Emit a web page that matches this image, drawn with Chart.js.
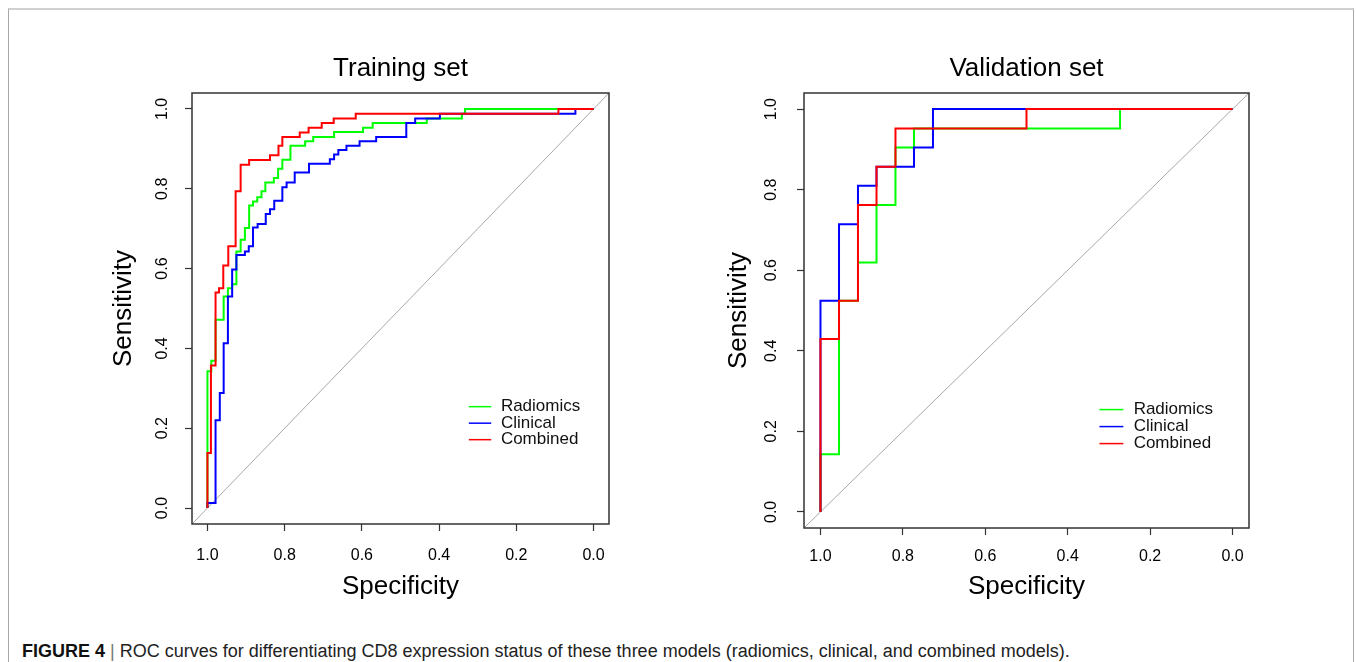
<!DOCTYPE html>
<html>
<head>
<meta charset="utf-8">
<script src="https://cdn.jsdelivr.net/npm/chart.js@4.4.1/dist/chart.umd.min.js"></script>
<style>
  body { margin: 0; background: #fff; width: 1356px; height: 662px; overflow: hidden; position: relative; }
  #frame { position: absolute; left: 8px; top: 8px; width: 1344px; height: 680px;
           border-top: 2px solid #d0d0d0; border-left: 1px solid #a8a8a8; border-right: 1px solid #a8a8a8; }
  canvas { position: absolute; }
  #trainChart { left: 60px; top: 30px; }
  #validChart { left: 680px; top: 30px; }
  #caption { position: absolute; left: 22px; top: 641px; line-height: 20px; font-size: 18px;
             font-family: "Liberation Sans", Arial, sans-serif; color: #222; white-space: nowrap; }
  #caption b { color: #111; }
  #caption span { color: #777; }
</style>
</head>
<body>
<div id="frame"></div>
<canvas id="trainChart" width="580" height="590"></canvas>
<canvas id="validChart" width="620" height="590"></canvas>
<div id="caption"><b>FIGURE 4</b> <span>|</span> ROC curves for differentiating CD8 expression status of these three models (radiomics, clinical, and combined models).</div>
<script>
const tickValues = [0, 0.2, 0.4, 0.6, 0.8, 1.0];
const axisMin = -0.04;
const axisMax = 1.04;
const seriesNames = ["Radiomics", "Clinical", "Combined"];
const seriesColors = ["#00ff00", "#0000ff", "#ff0000"];

// training set: specificity / sensitivity at each step of the ROC curves
const trainRadiomicsSpec = [1, 1, 0.990, 0.979, 0.958, 0.947, 0.936, 0.925, 0.914, 0.903, 0.892, 0.882, 0.871, 0.860,
    0.850, 0.828, 0.817, 0.806, 0.785, 0.747, 0.726, 0.672, 0.597, 0.572, 0.432, 0.341, 0.333, 0];
const trainRadiomicsSens = [0, 0.343, 0.369, 0.472, 0.530, 0.551, 0.561, 0.643, 0.672, 0.702, 0.758, 0.768, 0.779, 0.794,
    0.816, 0.827, 0.850, 0.873, 0.908, 0.919, 0.930, 0.942, 0.953, 0.965, 0.976, 0.988, 1, 1];
const trainClinicalSpec = [1, 1, 0.979, 0.968, 0.958, 0.947, 0.936, 0.925, 0.903, 0.893, 0.882, 0.870, 0.849, 0.838, 0.827,
    0.806, 0.795, 0.774, 0.737, 0.683, 0.672, 0.661, 0.640, 0.606, 0.563, 0.485, 0.462, 0.398, 0.047, 0];
const trainClinicalSens = [0, 0.0125, 0.220, 0.288, 0.413, 0.530, 0.598, 0.634, 0.643, 0.656, 0.703, 0.712, 0.737, 0.749, 0.770,
    0.804, 0.816, 0.841, 0.863, 0.874, 0.886, 0.897, 0.908, 0.919, 0.930, 0.965, 0.976, 0.988, 1, 1];
const trainCombinedSpec = [1, 1, 0.991, 0.979, 0.970, 0.959, 0.946, 0.927, 0.914, 0.892, 0.838, 0.816, 0.806, 0.761,
    0.738, 0.704, 0.673, 0.616, 0.091, 0];
const trainCombinedSens = [0, 0.138, 0.357, 0.540, 0.551, 0.608, 0.656, 0.794, 0.860, 0.872, 0.884, 0.908, 0.930, 0.941,
    0.953, 0.965, 0.976, 0.988, 1, 1];

// validation set
const validRadiomicsSpec = [1, 1, 0.955, 0.909, 0.864, 0.818, 0.773, 0.273, 0];
const validRadiomicsSens = [0, 0.143, 0.524, 0.619, 0.762, 0.905, 0.952, 1, 1];
const validClinicalSpec = [1, 1, 0.955, 0.909, 0.864, 0.773, 0.727, 0];
const validClinicalSens = [0, 0.524, 0.714, 0.810, 0.857, 0.905, 1, 1];
const validCombinedSpec = [1, 1, 0.955, 0.909, 0.864, 0.818, 0.5, 0];
const validCombinedSens = [0, 0.429, 0.524, 0.762, 0.857, 0.952, 1, 1];

Chart.defaults.font.family = "'Liberation Sans', Arial, sans-serif";
Chart.defaults.color = "#000";

const framePlugin = {
    id: "frame",
    afterDatasetsDraw(chart) {
        const a = chart.chartArea;
        const ctx = chart.ctx;
        ctx.save();
        ctx.strokeStyle = "#333";
        ctx.lineWidth = 1.5;
        ctx.strokeRect(a.left, a.top, a.right - a.left, a.bottom - a.top);
        ctx.restore();
    },
};

// legend placed in data coordinates, like legend(x, y) in R
const rocLegend = {
    id: "rocLegend",
    afterDraw(chart, args, opts) {
        const { ctx, scales } = chart;
        const x0 = scales.x.getPixelForValue(opts.lineStart);
        const x1 = scales.x.getPixelForValue(opts.lineEnd);
        const xt = scales.x.getPixelForValue(opts.textAt);
        let y = scales.y.getPixelForValue(opts.top);
        ctx.save();
        ctx.font = "17px 'Liberation Sans', Arial, sans-serif";
        ctx.textBaseline = "middle";
        ctx.fillStyle = "#111";
        chart.data.datasets.filter((d) => d.label).forEach((d) => {
            ctx.strokeStyle = d.borderColor;
            ctx.lineWidth = 1.5;
            ctx.beginPath();
            ctx.moveTo(x0, y);
            ctx.lineTo(x1, y);
            ctx.stroke();
            ctx.fillText(d.label, xt, y);
            y += opts.rowHeight;
        });
        ctx.restore();
    },
};

function makeDatasets(curves) {
    const sets = curves.map((c, i) => ({
        label: seriesNames[i],
        data: c[0].map((s, j) => ({ x: s, y: c[1][j] })),
        borderColor: seriesColors[i],
        borderWidth: 2,
        stepped: "before",
        pointRadius: 0,
        fill: false,
        order: 3 - i,
    }));
    sets.push({
        label: "",
        data: [{ x: axisMax, y: axisMin }, { x: axisMin, y: axisMax }],
        borderColor: "#a8a8a8",
        borderWidth: 1,
        pointRadius: 0,
        order: 4,
    });
    return sets;
}

function makeChart(id, title, curves, p) {
    new Chart(document.getElementById(id), {
        type: "line",
        data: { datasets: makeDatasets(curves) },
        plugins: [framePlugin, rocLegend],
        options: {
            responsive: false,
            animation: false,
            events: [],
            layout: { padding: { left: 0, right: p.padRight, top: 0, bottom: 0 } },
            plugins: {
                legend: { display: false },
                tooltip: { enabled: false },
                title: {
                    display: true, text: title, fullSize: false, color: "#000",
                    font: { size: 26, weight: "normal" },
                    padding: { top: 23, bottom: 8.8 },
                },
                rocLegend: { lineStart: 0.323, lineEnd: 0.265, textAt: 0.24, top: 0.254, rowHeight: p.rowHeight },
            },
            scales: {
                x: {
                    type: "linear", reverse: true, min: axisMin, max: axisMax,
                    afterBuildTicks: (s) => { s.ticks = tickValues.map((v) => ({ value: v })); },
                    afterFit: (s) => { s.height = p.xAxisHeight; },
                    ticks: { callback: (v) => v.toFixed(1), font: { size: 16 }, color: "#000",
                        padding: p.xTickPad, maxRotation: 0, autoSkip: false },
                    grid: { drawOnChartArea: false, tickLength: 7, color: "#333", tickWidth: 1.2 },
                    border: { display: false },
                    title: { display: true, text: "Specificity", font: { size: 26 }, color: "#000",
                        padding: { top: 0, bottom: 18 } },
                },
                y: {
                    type: "linear", min: axisMin, max: axisMax,
                    afterBuildTicks: (s) => { s.ticks = tickValues.map((v) => ({ value: v })); },
                    afterFit: (s) => { s.width = p.yAxisWidth; },
                    ticks: { callback: (v) => v.toFixed(1), font: { size: 16 }, color: "#000",
                        padding: p.yTickPad, minRotation: 90, maxRotation: 90, crossAlign: "center", autoSkip: false },
                    grid: { drawOnChartArea: false, tickLength: 7, color: "#333", tickWidth: 1.2 },
                    border: { display: false },
                    title: { display: true, text: "Sensitivity", font: { size: 26 }, color: "#000",
                        padding: { top: p.yTitlePad, bottom: 0 } },
                },
            },
        },
    });
}

makeChart("trainChart", "Training set", [
    [trainRadiomicsSpec, trainRadiomicsSens],
    [trainClinicalSpec, trainClinicalSens],
    [trainCombinedSpec, trainCombinedSens],
], { padRight: 31, xAxisHeight: 96, yAxisWidth: 132, xTickPad: 15.4, yTickPad: 11.5, yTitlePad: 48, rowHeight: 16.5 });

makeChart("validChart", "Validation set", [
    [validRadiomicsSpec, validRadiomicsSens],
    [validClinicalSpec, validClinicalSens],
    [validCombinedSpec, validCombinedSens],
], { padRight: 51, xAxisHeight: 92, yAxisWidth: 124, xTickPad: 12.4, yTickPad: 14, yTitlePad: 43.5, rowHeight: 17 });
</script>
</body>
</html>
